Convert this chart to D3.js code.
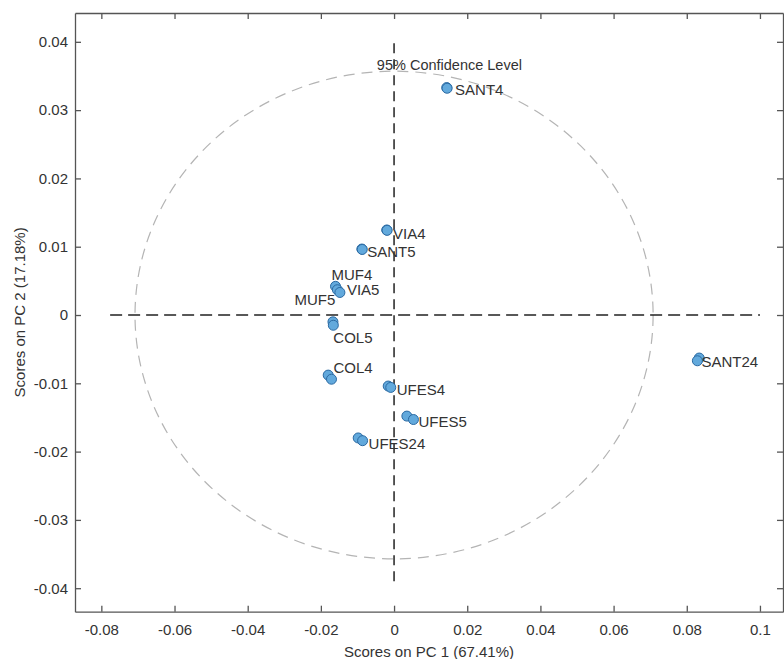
<!DOCTYPE html>
<html>
<head>
<meta charset="utf-8">
<script src="https://cdn.jsdelivr.net/npm/d3@7"></script>
<style>
  body { margin: 0; background: #fff; }
  svg text { font-family: "Liberation Sans", Arial, sans-serif; fill: #333; }
</style>
</head>
<body>
<div id="chart"></div>
<script>
let svgWidth = 784;
let svgHeight = 659;

// scores (replicates share a sample name)
let pointSample = ["SANT4", "SANT4", "VIA4", "VIA4", "SANT5", "SANT5", "MUF4", "MUF5", "VIA5",
    "COL5", "COL5", "COL4", "COL4", "UFES4", "UFES4", "UFES5", "UFES5", "UFES24", "UFES24",
    "SANT24", "SANT24"];
let pointPC1 = [0.0144, 0.0145, -0.0020, -0.0019, -0.0088, -0.0087, -0.0160, -0.0155, -0.0148,
    -0.0167, -0.0166, -0.0180, -0.0171, -0.0016, -0.0009, 0.0035, 0.0053, -0.0098, -0.0086,
    0.0834, 0.0829];
let pointPC2 = [0.0333, 0.0332, 0.01245, 0.0124, 0.00966, 0.0096, 0.0042, 0.0037, 0.0033,
    -0.0010, -0.0015, -0.0088, -0.0094, -0.0104, -0.0106, -0.0148, -0.0153, -0.0180, -0.0184,
    -0.0063, -0.0067];

let xTicks = [-0.08, -0.06, -0.04, -0.02, 0, 0.02, 0.04, 0.06, 0.08, 0.1];
let yTicks = [-0.04, -0.03, -0.02, -0.01, 0, 0.01, 0.02, 0.03, 0.04];

// 95% confidence ellipse (semi axes on PC1 / PC2) and reference lines
let ellipseRadii = [0.0708, 0.0357];
let refLinePC1 = [-0.0776, 0.1];
let refLinePC2 = [-0.0393, 0.0398];
let confidenceText = "95% Confidence Level";

// label placement, px offsets from the last replicate of each sample
let labelPos = {
    SANT4: [8, 1, "start"],
    VIA4: [6, 3, "start"],
    SANT5: [5, 2, "start"],
    MUF4: [-4, -12, "start"],
    MUF5: [-2, 10, "end"],
    VIA5: [7, -3, "start"],
    COL5: [0, 12, "start"],
    COL4: [2, -11, "start"],
    UFES4: [6, 2, "start"],
    UFES5: [5, 2, "start"],
    UFES24: [6, 3, "start"],
    SANT24: [4, 1, "start"]
};

let box = { left: 75, right: 783, top: 13, bottom: 611.7 };

let svg = d3.select("#chart")
    .append("svg")
    .attr("width", svgWidth)
    .attr("height", svgHeight);

let x = d3.scaleLinear()
    .domain([-0.0872, 0.1063])
    .range([box.left, box.right]);
let y = d3.scaleLinear()
    .domain([-0.04344, 0.04422])
    .range([box.bottom, box.top]);

let fmt = v => String(+v.toFixed(2));

function styleAxis(g) {
    g.selectAll("path.domain").attr("stroke", "#555").attr("stroke-width", 1.3);
    g.selectAll(".tick line").attr("stroke", "#555").attr("stroke-width", 1.3);
    g.selectAll(".tick text")
        .attr("fill", "#333")
        .style("font-size", "15px")
        .style("font-family", "'Liberation Sans', Arial, sans-serif");
}

//---------------------------------------------------------------------------------------------
// axes (ticks pointing inward, box all round)

let xAxis = svg.append("g")
    .attr("transform", `translate(0, ${box.bottom})`)
    .call(d3.axisBottom(x).tickValues(xTicks).tickFormat(fmt)
        .tickSizeInner(-6).tickSizeOuter(0).tickPadding(13));
styleAxis(xAxis);

let yAxis = svg.append("g")
    .attr("transform", `translate(${box.left}, 0)`)
    .call(d3.axisLeft(y).tickValues(yTicks).tickFormat(fmt)
        .tickSizeInner(-6).tickSizeOuter(0).tickPadding(7));
styleAxis(yAxis);

let topAxis = svg.append("g")
    .attr("transform", `translate(0, ${box.top})`)
    .call(d3.axisTop(x).tickValues(xTicks).tickFormat("")
        .tickSizeInner(-6).tickSizeOuter(0));
styleAxis(topAxis);

let rightAxis = svg.append("g")
    .attr("transform", `translate(${box.right}, 0)`)
    .call(d3.axisRight(y).tickValues(yTicks).tickFormat("")
        .tickSizeInner(-6).tickSizeOuter(0));
styleAxis(rightAxis);

svg.append("text")
    .attr("x", (box.left + box.right) / 2)
    .attr("y", 657)
    .attr("text-anchor", "middle")
    .style("font-size", "15px")
    .text("Scores on PC 1 (67.41%)");

svg.append("text")
    .attr("transform", `translate(25, ${(box.top + box.bottom) / 2}) rotate(-90)`)
    .attr("text-anchor", "middle")
    .style("font-size", "15px")
    .text("Scores on PC 2 (17.18%)");

//---------------------------------------------------------------------------------------------
// confidence ellipse + zero lines

svg.append("ellipse")
    .attr("cx", x(0))
    .attr("cy", y(0))
    .attr("rx", x(ellipseRadii[0]) - x(0))
    .attr("ry", y(0) - y(ellipseRadii[1]))
    .attr("fill", "none")
    .attr("stroke", "#b4b4b4")
    .attr("stroke-width", 1.2)
    .attr("stroke-dasharray", "11,7");

svg.append("line")
    .attr("x1", x(refLinePC1[0]))
    .attr("x2", x(refLinePC1[1]))
    .attr("y1", y(0))
    .attr("y2", y(0))
    .attr("stroke", "#222")
    .attr("stroke-width", 1.5)
    .attr("stroke-dasharray", "12,6");

svg.append("line")
    .attr("x1", x(0))
    .attr("x2", x(0))
    .attr("y1", y(refLinePC2[1]))
    .attr("y2", y(refLinePC2[0]))
    .attr("stroke", "#222")
    .attr("stroke-width", 1.5)
    .attr("stroke-dasharray", "10,6");

svg.append("text")
    .attr("x", x(-0.0047))
    .attr("y", y(0.0366))
    .attr("dy", "0.35em")
    .style("font-size", "14.5px")
    .text(confidenceText);

//---------------------------------------------------------------------------------------------
// score points and sample labels

let pts = pointSample.map((s, i) => ({ sample: s, pc1: pointPC1[i], pc2: pointPC2[i] }));

svg.append("g")
    .selectAll("circle")
    .data(pts)
    .enter()
    .append("circle")
    .attr("cx", d => x(d.pc1))
    .attr("cy", d => y(d.pc2))
    .attr("r", 5)
    .attr("fill", "#62a9dc")
    .attr("stroke", "#2b6aa3")
    .attr("stroke-width", 1);

let lastOf = new Map();
pts.forEach(d => lastOf.set(d.sample, d));

svg.append("g")
    .selectAll("text")
    .data(Array.from(lastOf.values()))
    .enter()
    .append("text")
    .attr("x", d => x(d.pc1) + labelPos[d.sample][0])
    .attr("y", d => y(d.pc2) + labelPos[d.sample][1])
    .attr("dy", "0.35em")
    .attr("text-anchor", d => labelPos[d.sample][2])
    .style("font-size", "15px")
    .text(d => d.sample);
</script>
</body>
</html>
